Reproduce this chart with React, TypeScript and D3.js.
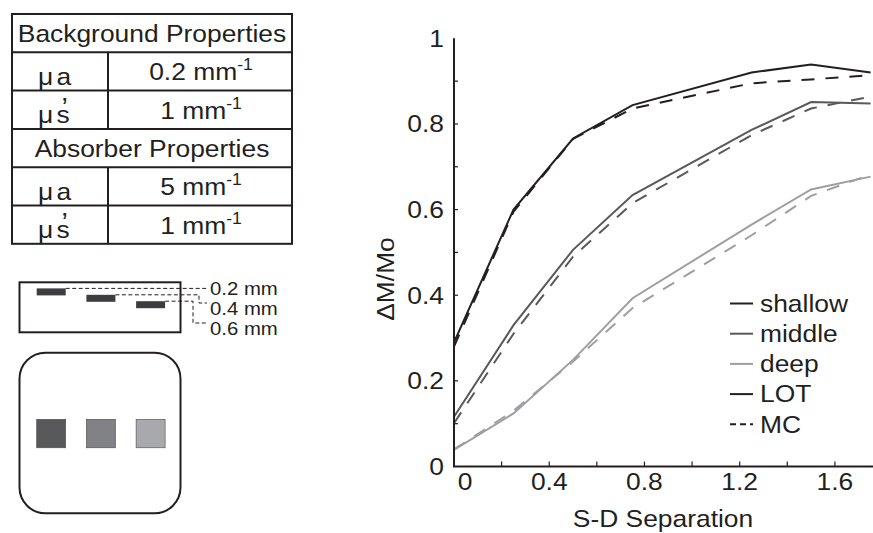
import React from "react";
import * as d3 from "d3";

const W = 873;
const H = 533;
const INK = "#231f20";
const FONT = '"Liberation Sans", Arial, Helvetica, sans-serif';
const SX = 1.1; // the original lettering is a little wide

// S-D separation (x) and dM/Mo for each depth, LOT (solid) and MC (dashed)
const separation = [0, 0.25, 0.5, 0.75, 1.25, 1.5, 1.75];
const shallowLOT = [0.29, 0.6, 0.766, 0.844, 0.92, 0.939, 0.92];
const shallowMC = [0.28, 0.595, 0.765, 0.836, 0.895, 0.904, 0.914];
const middleLOT = [0.116, 0.33, 0.506, 0.634, 0.786, 0.851, 0.848];
const middleMC = [0.101, 0.31, 0.49, 0.615, 0.774, 0.836, 0.864];
const deepLOT = [0.039, 0.124, 0.249, 0.393, 0.565, 0.647, 0.677];
const deepMC = [0.04, 0.13, 0.245, 0.37, 0.54, 0.632, 0.682];

const xTickLabels = [0, 0.4, 0.8, 1.2, 1.6];
const yTickLabels = [0, 0.2, 0.4, 0.6, 0.8, 1];

const legendNames = ["shallow", "middle", "deep", "LOT", "MC"];
const depthColors = ["#231f20", "#58595b", "#9d9fa2"];
const squareColors = ["#58595b", "#808285", "#a7a9ac"];

const depths = [0.2, 0.4, 0.6];
const depthLabels = ["0.2 mm", "0.4 mm", "0.6 mm"];

const tableRows = [
  { header: "Background Properties" },
  { sym: "a", value: "0.2 mm" },
  { sym: "s", value: "1 mm" },
  { header: "Absorber Properties" },
  { sym: "a", value: "5 mm" },
  { sym: "s", value: "1 mm" },
];

const Txt = ({ x, y, size, anchor = "start", rotate = 0, children }: any) => (
  <text
    transform={`translate(${x},${y})${rotate ? ` rotate(${rotate})` : ""} scale(${SX},1)`}
    fontSize={size}
    textAnchor={anchor}
    fill={INK}
    fontFamily={FONT}
  >
    {children}
  </text>
);

const PropertyTable = () => {
  const left = 12;
  const right = 292;
  const top = 14;
  const rowH = 38.3;
  const divider = 108;
  return (
    <g>
      <rect x={left} y={top} width={right - left} height={rowH * tableRows.length} fill="none" stroke={INK} strokeWidth={2} />
      {tableRows.map((r: any, i) => {
        const y0 = top + i * rowH;
        return (
          <g key={i}>
            {i > 0 && <line x1={left} x2={right} y1={y0} y2={y0} stroke={INK} strokeWidth={2} />}
            {r.header ? (
              <Txt x={(left + right) / 2} y={y0 + 28} size={24} anchor="middle">{r.header}</Txt>
            ) : (
              <>
                <line x1={divider} x2={divider} y1={y0} y2={y0 + rowH} stroke={INK} strokeWidth={2} />
                <Txt x={38} y={y0 + 32.5} size={24}>
                  μ<tspan dx={3}>{r.sym}</tspan>
                  {r.sym === "s" && (
                    <tspan fontSize={26} dx={-7.5} dy={-7}>{"’"}</tspan>
                  )}
                </Txt>
                <Txt x={(divider + right) / 2 + 1} y={y0 + 28} size={24} anchor="middle">
                  {r.value}
                  <tspan fontSize={16} dy={-10}>-1</tspan>
                </Txt>
              </>
            )}
          </g>
        );
      })}
    </g>
  );
};

const PhantomSketch = () => {
  const boxX = 19.5;
  const boxW = 161;
  const markW = 29;
  const markX = (i: number) => 36.7 + i * 49.7;
  // depth below the phantom surface, 32 px per mm
  const depthY = d3.scaleLinear().domain([0, 0.6]).range([282, 301.2]);
  const labelX = 210;
  const labelMid = [288, 308, 328];
  const bendX = [0, 199, 193];
  return (
    <g>
      <rect x={boxX} y={282.3} width={boxW} height={50} fill="none" stroke={INK} strokeWidth={2} />
      {depths.map((d, i) => {
        const y = depthY(d);
        const x1 = markX(i) + markW;
        const path =
          i === 0
            ? `M${x1},${y}H${labelX - 2}`
            : `M${x1},${y}H${bendX[i]}V${labelMid[i] - 5}H${labelX - 3}`;
        return (
          <g key={i}>
            <rect x={markX(i)} y={y} width={markW} height={7} fill="#3d3d3f" />
            <path d={path} fill="none" stroke={INK} strokeWidth={1} strokeDasharray="4,2.5" />
            <Txt x={labelX} y={labelMid[i] + 7} size={18.5}>{depthLabels[i]}</Txt>
          </g>
        );
      })}
      <rect x={boxX} y={352.7} width={boxW} height={160.6} rx={26} fill="none" stroke={INK} strokeWidth={2} />
      {squareColors.map((c, i) => (
        <rect key={i} x={markX(i)} y={419.3} width={markW} height={28.5} fill={c} stroke="#4a4a4c" strokeWidth={0.6} />
      ))}
    </g>
  );
};

const SeparationChart = () => {
  const x = d3.scaleLinear().domain([0, 1.76]).range([454, 873]);
  const y = d3.scaleLinear().domain([0, 1]).range([466.5, 38.3]);
  const line = d3
    .line<number>()
    .x((_, i) => x(separation[i]))
    .y((v) => y(v));

  const series = [
    { values: shallowLOT, color: depthColors[0], dash: null },
    { values: shallowMC, color: depthColors[0], dash: "13,11" },
    { values: middleLOT, color: depthColors[1], dash: null },
    { values: middleMC, color: depthColors[1], dash: "13,11" },
    { values: deepLOT, color: depthColors[2], dash: null },
    { values: deepMC, color: depthColors[2], dash: "13,11" },
  ];

  const yMinor = d3.range(1, 10).map((v) => v / 10);
  const xMinor = d3.range(1, 9).map((v) => v / 5);
  const legendX = 730;
  const legendY0 = 303.5;
  const legendStep = 30.2;

  return (
    <g>
      {series.map((s, i) => (
        <path
          key={i}
          d={line(s.values) || ""}
          fill="none"
          stroke={s.color}
          strokeWidth={2}
          strokeDasharray={s.dash || undefined}
        />
      ))}

      {/* axes */}
      <line x1={x(0)} x2={x(0)} y1={y(1)} y2={y(0)} stroke={INK} strokeWidth={2} />
      <line x1={x(0) - 1} x2={W} y1={y(0)} y2={y(0)} stroke={INK} strokeWidth={2} />
      {yMinor.map((v) => (
        <line key={v} x1={x(0)} x2={x(0) + 4} y1={y(v)} y2={y(v)} stroke={INK} strokeWidth={1.2} />
      ))}
      {xMinor.map((v) => (
        <line key={v} x1={x(v)} x2={x(v)} y1={y(0)} y2={y(0) - 5} stroke={INK} strokeWidth={1.2} />
      ))}
      {yTickLabels.map((v) => (
        <Txt key={v} x={x(0) - 10} y={y(v) + 8.5} size={24} anchor="end">
          {d3.format("~g")(v)}
        </Txt>
      ))}
      {xTickLabels.map((v) => (
        <Txt key={v} x={x(v) + (v === 0 ? 11 : 0)} y={490} size={24} anchor="middle">
          {d3.format("~g")(v)}
        </Txt>
      ))}
      <Txt x={663} y={527} size={24} anchor="middle">S-D Separation</Txt>
      <Txt x={394} y={279} size={24} anchor="middle" rotate={-90}>ΔM/Mo</Txt>

      {/* legend */}
      {legendNames.map((name, i) => {
        const ly = legendY0 + i * legendStep;
        const color = i < 3 ? depthColors[i] : INK;
        return (
          <g key={name}>
            <line
              x1={legendX}
              x2={legendX + 23}
              y1={ly}
              y2={ly}
              stroke={color}
              strokeWidth={2}
              strokeDasharray={name === "MC" ? "6,4" : undefined}
            />
            <Txt x={legendX + 30} y={ly + 8.3} size={24}>{name}</Txt>
          </g>
        );
      })}
    </g>
  );
};

export default function App() {
  return (
    <svg
      width={W}
      height={H}
      style={{ position: "absolute", left: 0, top: 0, background: "#fff" }}
    >
      <rect width={W} height={H} fill="#fff" />
      <PropertyTable />
      <PhantomSketch />
      <SeparationChart />
    </svg>
  );
}
